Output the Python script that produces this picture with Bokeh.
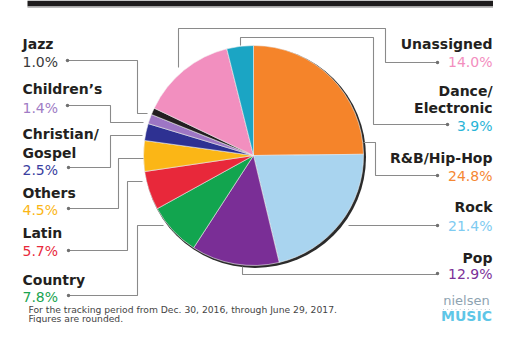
import numpy as np
from bokeh.plotting import figure
from bokeh.models import Range1d, ColumnDataSource
from bokeh.core.properties import value
from bokeh.embed import file_html
from bokeh.resources import INLINE

# ---------------- data ----------------
genres = ["R&B/Hip-Hop", "Rock", "Pop", "Country", "Latin", "Others",
          "Christian/Gospel", "Children’s", "Jazz", "Unassigned", "Dance/Electronic"]
shares = [24.8, 21.4, 12.9, 7.8, 5.7, 4.5, 2.5, 1.4, 1.0, 14.0, 3.9]
name_lines = [["R&B/Hip-Hop"], ["Rock"], ["Pop"], ["Country"], ["Latin"], ["Others"],
              ["Christian/", "Gospel"], ["Children’s"], ["Jazz"], ["Unassigned"],
              ["Dance/", "Electronic"]]
slice_colors = ["#f5842a", "#a9d4ef", "#7a2e96", "#12a54f", "#e8283a", "#fbb616",
                "#2e3192", "#9d76c4", "#231f20", "#f28fbf", "#1ba5c4"]
pct_colors = ["#f58733", "#7ecbf1", "#7c3198", "#1aa450", "#e8293c", "#fbb616",
              "#3a3ea0", "#a07cc5", "#3a3a3a", "#f38ebe", "#2ab4d7"]
footnote = ["For the tracking period from Dec. 30, 2016, through June 29, 2017.",
            "Figures are rounded."]

# ---------------- layout (reference pixel coords) ----------------
W, FH = 493, 323
H = 339
def Y(v):
    return H - v

def TY(v, fs):
    # text baseline: compensate the renderer's downward offset
    return H - (v - 0.35 * fs)

side = ["R", "R", "R", "L", "L", "L", "L", "L", "L", "R", "R"]
name_base = [[162], [211], [262], [284], [237], [197], [138, 157], [93], [48], [48], [95, 112]]
pct_base = [180, 230, 278, 301, 255, 214, 174, 112, 66, 66, 130]
dots = [(437, 175), (437, 225), (437, 273), (68, 295), (68, 250), (68, 208),
        (68, 167), (67, 105), (67, 60), (437, 62), (447, 124)]
paths = [
    [(437, 175), (375, 175), (375, 142), (363, 142)],
    [(437, 225), (348, 225)],
    [(437, 274), (242, 274), (242, 266)],
    [(68, 295), (137, 295), (137, 225), (163, 225)],
    [(68, 250), (127, 250), (127, 181), (142, 181)],
    [(68, 208), (118, 208), (118, 158), (143, 158)],
    [(68, 167), (110, 167), (110, 135), (142, 135)],
    [(67, 105), (110, 105), (110, 122), (143, 122)],
    [(67, 60), (137, 60), (137, 113), (147, 113)],
    [(437, 62), (385, 62), (385, 28), (178, 28), (178, 67)],
    [(447, 124), (373, 124), (373, 37), (240, 37), (240, 45)],
]
LEFT_X, RIGHT_X = 22, 492
CX, CY, R = 253, 155, 110
FS = 14

p = figure(width=W, height=FH, output_backend="svg", toolbar_location=None,
           x_range=Range1d(0, W), y_range=Range1d(Y(FH), Y(0)),
           min_border=0, background_fill_color="white")
p.axis.visible = False
p.grid.visible = False
p.outline_line_color = None

# header bar remnant
p.quad(left=[27], right=[499], top=[Y(0)], bottom=[Y(6)], fill_color="#1e1c1d", line_color=None)
p.quad(left=[27], right=[499], top=[Y(6)], bottom=[Y(7.5)], fill_color="#bdbdbd", line_color=None)

# pie shadow
p.circle(x=[CX + 1.5], y=[Y(CY + 1.5)], radius=R + 1, fill_color="#2b2b2b", line_color=None)

# pie
tot = sum(shares)
cum = np.concatenate([[0], np.cumsum(shares)]) / tot
starts = np.pi / 2 - 2 * np.pi * cum[1:]
ends = np.pi / 2 - 2 * np.pi * cum[:-1]
src = ColumnDataSource(dict(start=starts, end=ends, color=slice_colors, genre=genres))
p.wedge(x=CX, y=Y(CY), radius=R, start_angle="start", end_angle="end",
        fill_color="color", line_color="#f4f4f4", line_width=0.6, source=src)

# leader lines
p.multi_line(xs=[[pt[0] for pt in path] for path in paths],
             ys=[[Y(pt[1]) for pt in path] for path in paths],
             line_color="#8a8a8a", line_width=1.1)
p.scatter(x=[d[0] for d in dots], y=[Y(d[1]) for d in dots], size=3.5,
          fill_color="#707070", line_color=None)

# labels
for i in range(len(genres)):
    x = LEFT_X if side[i] == "L" else RIGHT_X
    align = "left" if side[i] == "L" else "right"
    p.text(x=[x] * len(name_lines[i]), y=[TY(b, FS) for b in name_base[i]], text=name_lines[i],
           text_font=value("DejaVu Sans"), text_font_style="bold", text_font_size=f"{FS}px",
           text_align=align, text_baseline="alphabetic", text_color="#231f20")
    p.text(x=[x], y=[TY(pct_base[i], FS)], text=[f"{shares[i]:.1f}%"],
           text_font=value("DejaVu Sans"), text_font_size=f"{FS}px",
           text_align=align, text_baseline="alphabetic", text_color=pct_colors[i])

# footnote
p.text(x=[28, 28], y=[TY(312.5, 9.2), TY(321, 9.2)], text=footnote,
       text_font=value("DejaVu Sans"), text_font_size="9.2px",
       text_align="left", text_baseline="alphabetic", text_color="#444444")

# logo
p.text(x=[466], y=[TY(305, 13)], text=["nielsen"], text_font=value("DejaVu Sans"),
       text_font_size="13px", text_align="center", text_baseline="alphabetic",
       text_color="#8ea3b1")
p.scatter(x=list(np.linspace(443, 489, 12)), y=[Y(309)] * 12, size=1.2,
          fill_color="#b9c6cf", line_color=None)
p.text(x=[466], y=[TY(320, 14)], text=["MUSIC"], text_font=value("DejaVu Sans"),
       text_font_style="bold", text_font_size="14px", text_align="center",
       text_baseline="alphabetic", text_color="#5ec6e7")

open("out.html", "w").write(file_html(p, INLINE))
